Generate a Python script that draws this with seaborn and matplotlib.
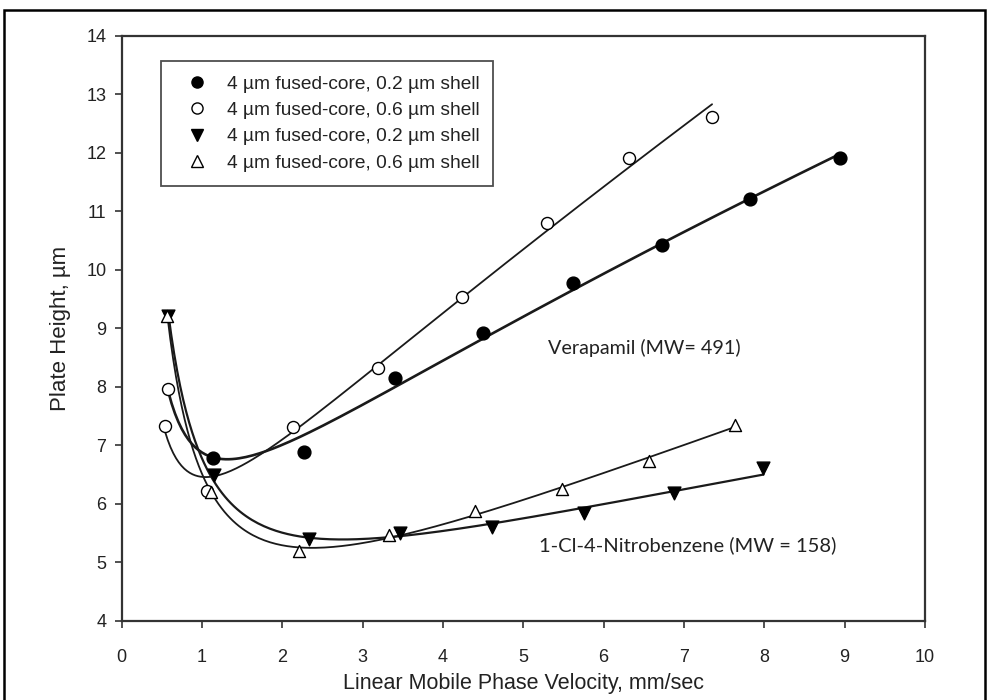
import numpy as np
import pandas as pd
import matplotlib
matplotlib.use("Agg")
import matplotlib.pyplot as plt
import seaborn as sns
from matplotlib.patches import Rectangle

# Verapamil, 0.2 um shell (filled circles)
ver02_u = [1.14, 2.27, 3.40, 4.50, 5.62, 6.73, 7.82, 8.94]
ver02_h = [6.79, 6.88, 8.15, 8.93, 9.78, 10.42, 11.21, 11.91]
# Verapamil, 0.6 um shell (open circles)
ver06_u = [0.54, 0.58, 1.06, 2.13, 3.19, 4.24, 5.29, 6.32, 7.35]
ver06_h = [7.33, 7.96, 6.23, 7.31, 8.33, 9.53, 10.81, 11.91, 12.62]
# 1-Cl-4-nitrobenzene, 0.2 um shell (filled down triangles)
nb02_u = [0.58, 1.15, 2.33, 3.47, 4.61, 5.75, 6.88, 7.99]
nb02_h = [9.22, 6.50, 5.40, 5.50, 5.61, 5.84, 6.18, 6.61]
# 1-Cl-4-nitrobenzene, 0.6 um shell (open up triangles)
nb06_u = [0.57, 1.11, 2.21, 3.33, 4.40, 5.48, 6.56, 7.64]
nb06_h = [9.22, 6.20, 5.20, 5.47, 5.88, 6.25, 6.74, 7.35]

legend_labels = ["4 \u00b5m fused-core, 0.2 \u00b5m shell",
                 "4 \u00b5m fused-core, 0.6 \u00b5m shell",
                 "4 \u00b5m fused-core, 0.2 \u00b5m shell",
                 "4 \u00b5m fused-core, 0.6 \u00b5m shell"]
x_ticks = list(range(0, 11))
y_ticks = list(range(4, 15))

sns.set_theme(style="ticks")
plt.rcParams["font.family"] = ["Liberation Sans", "DejaVu Sans"]

fig = plt.figure(figsize=(9.88, 7.0), dpi=100)
ax = fig.add_axes([0.1231, 0.1129, 0.8131, 0.8357])


def knox_fit(u, h, n=200):
    """Least-squares fit of H = A*u^(1/3) + B/u + C*u over the data range."""
    u = np.asarray(u, float)
    h = np.asarray(h, float)
    M = np.column_stack([np.cbrt(u), 1.0 / u, u])
    coef, *_ = np.linalg.lstsq(M, h, rcond=None)
    uu = np.linspace(u.min(), u.max(), n)
    return uu, coef[0] * np.cbrt(uu) + coef[1] / uu + coef[2] * uu


# the 0.2 um Verapamil curve starts from the lowest-velocity reading
fit_sets = [
    ([ver06_u[1]] + ver02_u, [ver06_h[1]] + ver02_h, 1.9),
    ([ver06_u[0]] + ver06_u[2:], [ver06_h[0]] + ver06_h[2:], 1.3),
    (nb02_u, nb02_h, 1.6),
    (nb06_u, nb06_h, 1.3),
]
for fu, fh, lw in fit_sets:
    uu, hh = knox_fit(fu, fh)
    sns.lineplot(x=uu, y=hh, ax=ax, color="#1a1a1a", lw=lw, sort=False)

series = [
    (ver02_u, ver02_h, "o", "black", 85),
    (ver06_u, ver06_h, "o", "white", 75),
    (nb02_u, nb02_h, "v", "black", 85),
    (nb06_u, nb06_h, "^", "white", 75),
]
handles = []
for (u, h, m, fc, s), lab in zip(series, legend_labels):
    sns.scatterplot(x=u, y=h, ax=ax, marker=m, s=s, facecolor=fc,
                    edgecolor="black", linewidth=1.0, zorder=5)
    handles.append(plt.Line2D([], [], ls="none", marker=m, markersize=8,
                              markerfacecolor=fc, markeredgecolor="black",
                              markeredgewidth=1.0, label=lab))

ax.set_xlim(0, 10)
ax.set_ylim(4, 14)
ax.set_xticks(x_ticks)
ax.set_yticks(y_ticks)
ax.tick_params(axis="both", direction="out", length=5, width=1.2,
               color="#333333", labelsize=13, labelcolor="#222222", pad=6)
ax.tick_params(axis="x", pad=15)
for sp in ax.spines.values():
    sp.set_visible(True)
    sp.set_color("#333333")
    sp.set_linewidth(1.6)

ax.set_xlabel("Linear Mobile Phase Velocity, mm/sec", fontsize=15.5,
              color="#222222", labelpad=5)
ax.set_ylabel("Plate Height, \u00b5m", fontsize=16, color="#222222",
              labelpad=11)

leg = ax.legend(handles=handles, loc="upper left",
                bbox_to_anchor=(0.049, 0.957), frameon=True, fancybox=False,
                fontsize=13.8, handletextpad=0.4, borderpad=0.73,
                labelspacing=0.47, handlelength=2.3, borderaxespad=0)
leg.get_frame().set_edgecolor("#222222")
leg.get_frame().set_linewidth(1.3)
for t in leg.get_texts():
    t.set_color("#222222")

ax.text(5.31, 8.67, "Verapamil (MW= 491)", fontsize=14.2,
        family=["Lato", "DejaVu Sans"], color="#222222", va="center")
ax.text(5.2, 5.30, "1-Cl-4-Nitrobenzene (MW = 158)", fontsize=14.5,
        family=["Lato", "DejaVu Sans"], color="#222222", va="center")

# outer frame around the figure
fig.patches.append(Rectangle((4 / 988, -0.05), (985 - 4) / 988, 1.05 - 10 / 700,
                             transform=fig.transFigure, fill=False,
                             edgecolor="black", linewidth=1.8))

fig.savefig("out.png", dpi=100, facecolor="white")
